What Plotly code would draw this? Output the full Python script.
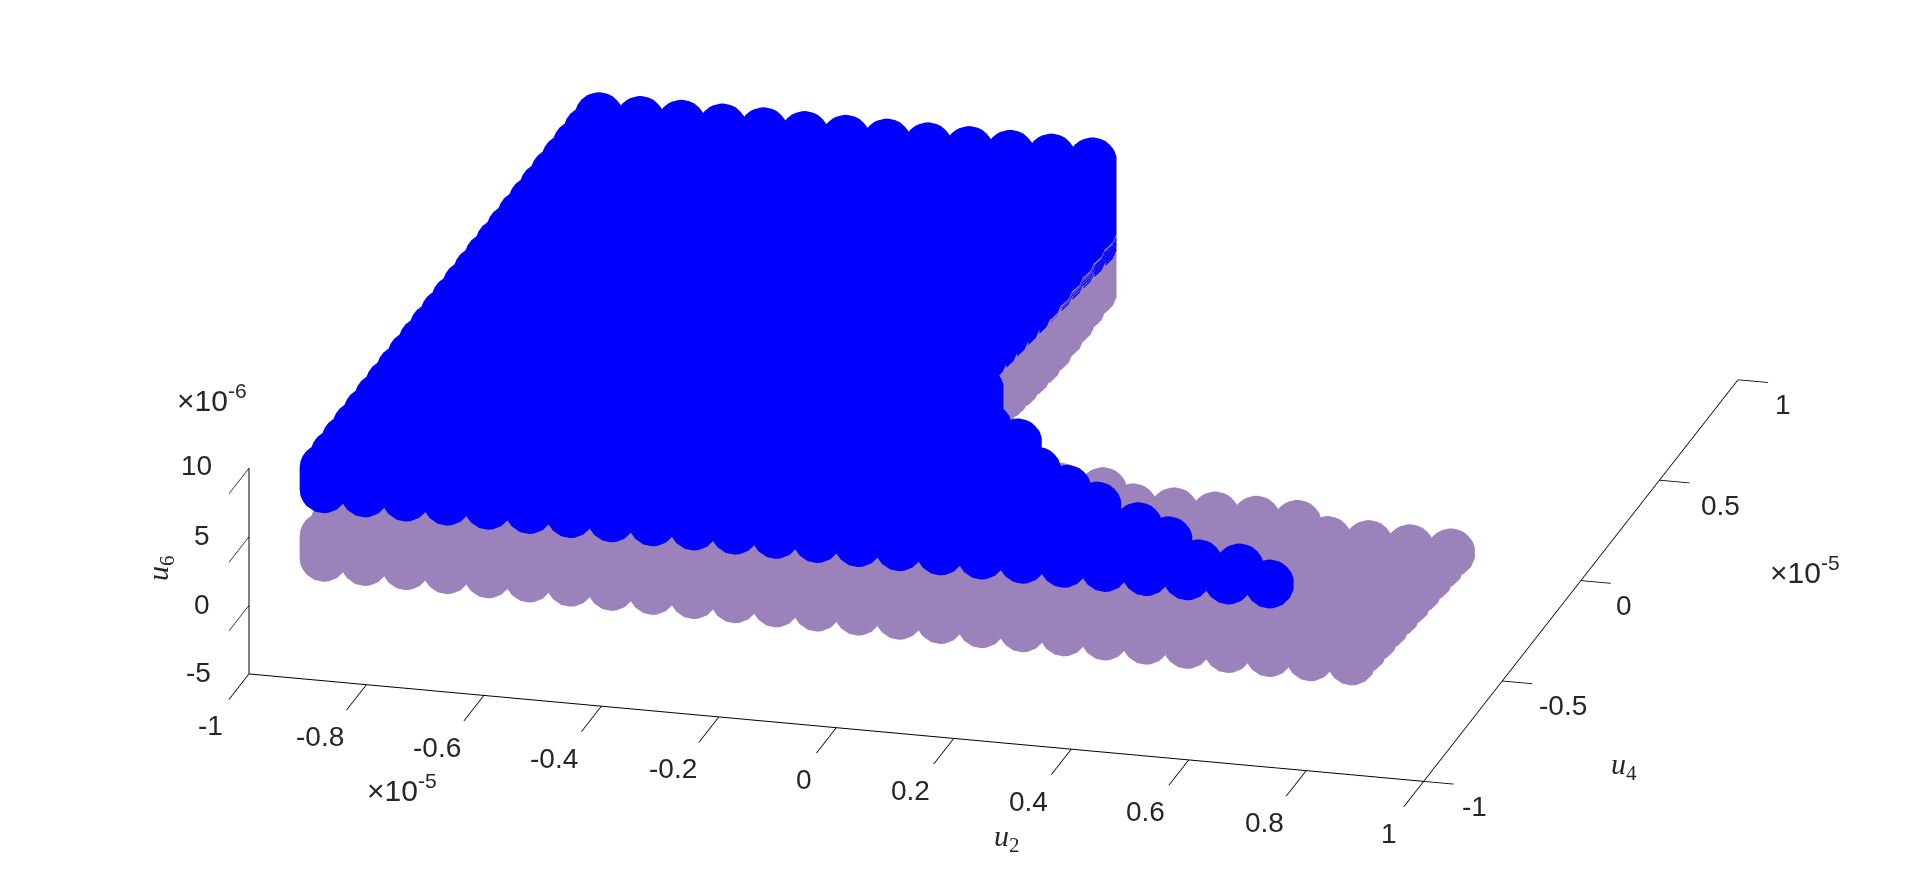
import plotly.graph_objects as go

# lattice of the scanned inputs (units of 1e-5)
u2_grid = [-0.90, -0.83, -0.76, -0.69, -0.62, -0.55, -0.48, -0.41, -0.34, -0.27, -0.20, -0.13, -0.06,
           0.01, 0.08, 0.15, 0.22, 0.29, 0.36, 0.43, 0.50, 0.57, 0.64, 0.71, 0.78, 0.85]
u4_grid = [-0.90, -0.83, -0.76, -0.69, -0.62, -0.55, -0.48, -0.41, -0.34, -0.27, -0.20, -0.13, -0.06,
           0.01, 0.08, 0.15, 0.22, 0.29, 0.36, 0.43, 0.50, 0.57, 0.64, 0.71, 0.78, 0.85]

# last u2 index reached in each u4 row
blue_last = [23, 22, 20, 19, 17, 16, 15, 15, 14, 13, 13, 13, 12, 12, 12, 12, 12, 12, 12, 12, 12, 12, 12, 12, 12, 12]
purple_last = [25, 25, 25, 25, 25, 25, 25, 25, 25, 25, 21, 16, 14, 13, 12, 12, 12, 12, 12, 12, 12, 12, 12, 12, 12, 12]

# lower u6 per u4 row (units of 1e-6), plus a correction per u2 column
blue_floor_row = [7.50, 7.35, 7.20, 7.05, 6.90, 6.75, 6.60, 6.45, 6.30, 6.15, 6.00, 5.85, 5.70, 5.55, 5.40, 5.27,
                  5.07, 4.87, 4.67, 4.47, 4.27, 4.07, 3.87, 3.67, 3.47, 3.27]
purple_floor_row = [2.50, 2.35, 2.20, 2.05, 1.90, 1.75, 1.60, 1.45, 1.30, 1.15, 1.00, 0.85, 0.70, 0.75, 0.80, 0.85,
                    0.80, 0.55, 0.30, 0.10, -0.10, -0.20, -0.20, -0.20, -0.15, -0.15]
floor_col = [0, -.03, -.06, -.08, -.11, -.14, -.17, -.20, -.22, -.25, -.28, -.31, -.34,
             -.36, -.39, -.42, -.45, -.48, -.50, -.53, -.56, -.59, -.62, -.64, -.67, -.70]
# height of the stack above the floor in the narrow part of the blue set, per u2 column
blue_rise_col = [0, 0, 0, 0, 0, 0, 0, 0, 0, 0, 0, 0, 0,
                 1.5, 1.7, 1.75, 1.75, 1.6, 1.55, 0.35, 0.5, 0, 0, 0, 0, 0]
purple_rise_col = [0] * 26
blue_ceiling = [9.0]       # flat top of the wide part
purple_ceiling = [4.0]
wide_part_last = [12]      # columns up to here reach the ceiling
stack_step = [0.2]

x_ticks = [-1, -0.8, -0.6, -0.4, -0.2, 0, 0.2, 0.4, 0.6, 0.8, 1]
y_ticks = [-1, -0.5, 0, 0.5, 1]
z_ticks = [-5, 0, 5, 10]

BLUE = "#0000ff"
PURPLE = "#9c82bb"
INK = "#262626"


def cloud(last, floor_row, rise, ceiling):
    xs, ys, zs = [], [], []
    for j, y in enumerate(u4_grid):
        for i in range(last[j] + 1):
            lo = floor_row[j] + floor_col[i]
            hi = ceiling if i <= wide_part_last[0] else lo + rise[i]
            z = lo
            while True:
                xs.append(u2_grid[i]); ys.append(y); zs.append(z)
                if z >= hi:
                    break
                z = min(z + stack_step[0], hi)
    return xs, ys, zs


px, py, pz = cloud(purple_last, purple_floor_row, purple_rise_col, purple_ceiling[0])
bx, by, bz = cloud(blue_last, blue_floor_row, blue_rise_col, blue_ceiling[0])

fig = go.Figure()
for xs, ys, zs, col in [(px, py, pz, PURPLE), (bx, by, bz, BLUE)]:
    fig.add_trace(go.Scatter3d(x=xs, y=ys, z=zs, mode="markers", showlegend=False, hoverinfo="skip",
                               marker=dict(size=28.4, color=col, opacity=1, line=dict(width=0))))


def axis(rng, ticks, ticklen):
    return dict(range=rng, tickvals=ticks, autorange=False, showticklabels=False,
                showbackground=False, showgrid=False, zeroline=False, showline=True, linecolor="#000000", linewidth=2,
                ticks="inside", ticklen=ticklen, tickcolor="#000000", tickwidth=2, showspikes=False,
                title=dict(text=""))


labels = []


def tick_note(x, y, z, text, dx, dy):
    labels.append(dict(x=x, y=y, z=z, text=text, showarrow=False, xshift=dx, yshift=dy,
                       font=dict(family="Liberation Sans", size=28, color=INK),
                       xanchor="center", yanchor="middle"))


x_dx = [-39, -47, -47, -48, -46, -32, -43, -43, -43, -42, -35]
y_dx = [51, 61, 43, 61, 45]
z_dx = [-51, -47, -47, -53]
z_dy = [1, 1, 1, 3]
for t, d in zip(x_ticks, x_dx):
    tick_note(t, -1, -5, str(t), d, -52)
for t, d in zip(y_ticks, y_dx):
    tick_note(1, t, -5, str(t), d, -25)
for t, d, e in zip(z_ticks, z_dx, z_dy):
    tick_note(-1, -1, t, str(t), d, e)

zoom = 2.868
n = 8
fig.update_layout(
    width=1920, height=879, margin=dict(l=0, r=0, t=0, b=0), paper_bgcolor="white", showlegend=False,
    scene=dict(
        domain=dict(x=[0.035, 1], y=[0.0353, 1]),
        xaxis=axis([-1, 1], x_ticks, 31), yaxis=axis([-1, 1], y_ticks, 77), zaxis=axis([-5, 10], z_ticks, 77),
        aspectmode="manual", aspectratio=dict(x=zoom, y=zoom, z=0.18 * zoom),
        annotations=labels,
        camera=dict(projection=dict(type="orthographic"), up=dict(x=0, y=0, z=1), center=dict(x=0, y=0, z=0),
                    eye=dict(x=0.243 * n, y=-0.908 * n, z=0.342 * n)),
    ),
)


def note(x, y, text, size=30, family="Liberation Sans", angle=0):
    fig.add_annotation(x=x / 1920, y=1 - y / 879, xref="paper", yref="paper", text=text, showarrow=False,
                       font=dict(family=family, size=size, color=INK), textangle=angle,
                       xanchor="center", yanchor="middle")


note(212, 398, "×10<sup>-6</sup>")
note(402, 788, "×10<sup>-5</sup>")
note(1805, 570, "×10<sup>-5</sup>")
note(160, 568, "<i>u</i><sub>6</sub>", 30, "Liberation Serif", -90)
note(1624, 766, "<i>u</i><sub>4</sub>", 30, "Liberation Serif")
note(1007, 838, "<i>u</i><sub>2</sub>", 30, "Liberation Serif")

fig.write_html("out.html", config=dict(displayModeBar=False), post_script="document.body.style.margin='0';")
